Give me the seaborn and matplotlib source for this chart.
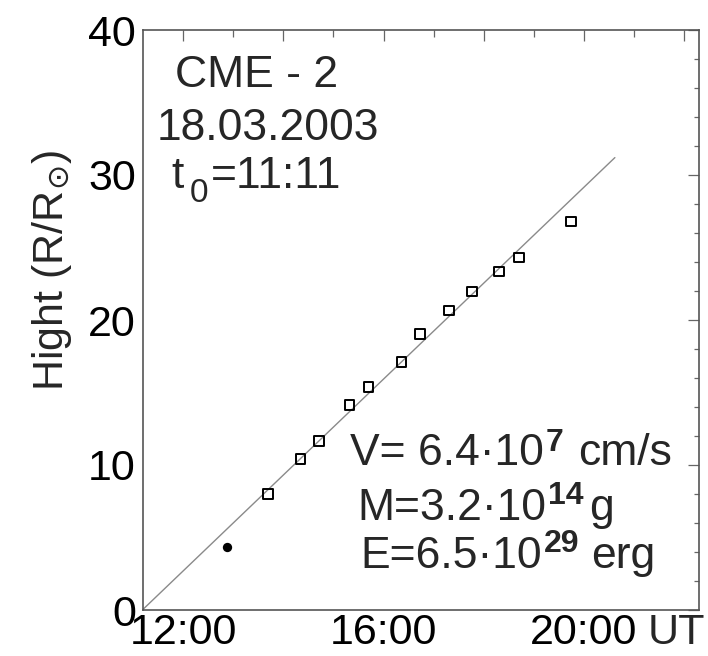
import matplotlib
matplotlib.use("Agg")
import matplotlib.pyplot as plt
import seaborn as sns
import numpy as np
import pandas as pd

# ---- data ----
obs_time_h = [13.69, 14.34, 14.71, 15.32, 15.70, 16.36, 16.73, 17.31, 17.76, 18.30, 18.71, 19.74]
obs_height = [7.98, 10.39, 11.68, 14.14, 15.36, 17.09, 19.01, 20.66, 21.97, 23.34, 24.31, 26.79]
early_time_h = [12.88]
early_height = [4.32]
fit_time_h = [11.183, 20.62]
fit_height = [0.0, 31.2]
x_major = [12, 14, 16, 18, 20, 22]
x_labels = ["12:00", "", "16:00", "", "20:00", ""]
y_major = [0, 10, 20, 30, 40]

sns.set_style("white")
plt.rcParams["font.family"] = ["Liberation Sans", "DejaVu Sans"]
plt.rcParams["mathtext.fontset"] = "dejavusans"

W, H = 708, 656
fig = plt.figure(figsize=(W / 100, H / 100), dpi=100)
L, R, B, T = 142.7, 699, 610, 30
ax = fig.add_axes([L / W, 1 - B / H, (R - L) / W, (B - T) / H])

obs = pd.DataFrame({"t": obs_time_h, "h": obs_height})
early = pd.DataFrame({"t": early_time_h, "h": early_height})
fit = pd.DataFrame({"t": fit_time_h, "h": fit_height})

sns.lineplot(data=fit, x="t", y="h", ax=ax, color="#8a8a8a", linewidth=1.0, zorder=2)
sns.scatterplot(data=obs, x="t", y="h", ax=ax, marker="s", s=50,
                facecolors="none", edgecolor="black", linewidth=1.4, zorder=3)
sns.scatterplot(data=early, x="t", y="h", ax=ax, marker="o", s=45,
                color="black", edgecolor="black", linewidth=0, zorder=3)

ax.set_xlim(11.19, 22.30)
ax.set_ylim(0, 40)
ax.set_xlabel("")
ax.set_ylabel("")

ax.set_xticks(x_major)
ax.set_xticklabels(x_labels)
ax.set_xticks(np.arange(13, 22, 2), minor=True)
ax.set_yticks(y_major)
ax.set_yticks(np.arange(2, 40, 2), minor=True)

spine_c = "#555555"
for s in ax.spines.values():
    s.set_color(spine_c)
    s.set_linewidth(1.2)
    s.set_visible(True)

ax.tick_params(axis="both", which="both", direction="in", top=True, right=True,
               color="#666666", width=0.9, labelsize=31, labelcolor="black")
ax.tick_params(axis="x", which="major", length=8, pad=2)
ax.tick_params(axis="x", which="minor", length=5)
ax.tick_params(axis="y", which="major", length=8, pad=5)
ax.tick_params(axis="y", which="minor", length=3.5)

# y label
fig.text(52 / W, 1 - 270 / H, r"Hight (R/R$_{\odot}$)", rotation=90,
         ha="center", va="center", fontsize=31)


def ftext(x, y, s, **kw):
    kw.setdefault("fontsize", 32)
    kw.setdefault("va", "baseline")
    kw.setdefault("ha", "left")
    return fig.text(x / W, 1 - y / H, s, **kw)


# x-axis unit label next to the last tick
ftext(676, 613, "UT", fontsize=31, ha="center", va="top")

# top-left annotations
ftext(175, 87, "CME - 2")
ftext(157, 140, "18.03.2003")
ftext(171, 188, "t")
ftext(190, 202, "0", fontsize=24)
ftext(211, 188, "=11:11")

fig.canvas.draw()
renderer = fig.canvas.get_renderer()


def right_px(t):
    bb = t.get_window_extent(renderer)
    return bb.x1


def param_line(x, y, main, sup, unit, gap_sup, gap_unit, raise_px):
    t1 = ftext(x, y, main)
    x1 = right_px(t1)
    t2 = ftext(x1 + gap_sup, y - raise_px, sup, fontsize=23, fontweight="bold")
    x2 = right_px(t2)
    ftext(x2 + gap_unit, y, unit)


param_line(350, 465, "V= 6.4\u00b710", "7", "cm/s", 2, 14, 14)
param_line(357, 520, "M=3.2\u00b710", "14", "g", 2, 6, 16)
param_line(360, 568, "E=6.5\u00b710", "29", "erg", 2, 12, 16)

fig.savefig("out.png", dpi=100, facecolor="white")
